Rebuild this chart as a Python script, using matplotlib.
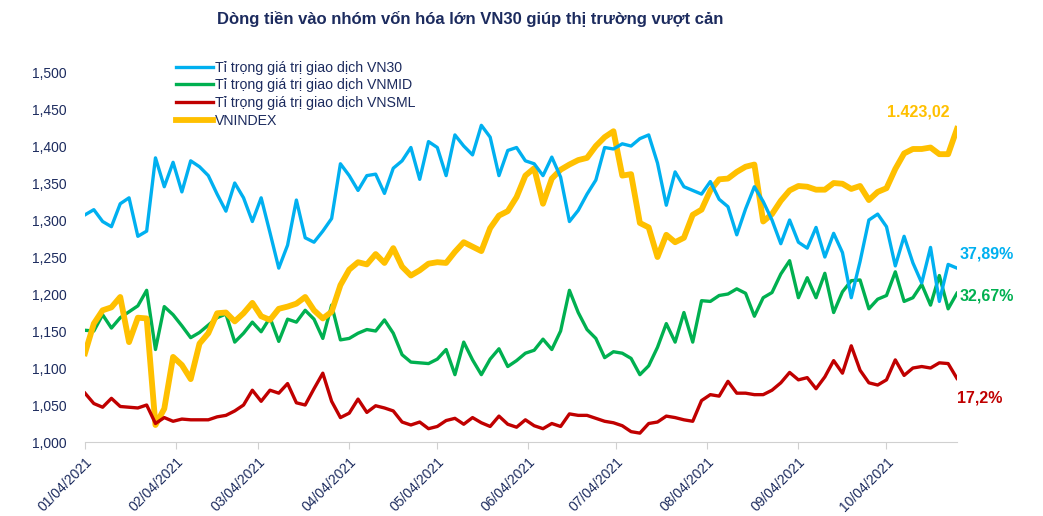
import pandas as pd
import matplotlib
matplotlib.use('Agg')
import matplotlib.pyplot as plt

plt.rcParams['font.family'] = ['Liberation Sans', 'DejaVu Sans']

# sampled every 3 days, Jan -> late Oct 2021
dates = pd.date_range('2021-01-01', periods=100, freq='3D')

vn30 = [1307, 1314, 1298, 1291, 1322, 1330, 1278, 1285, 1384, 1345,
        1378, 1338, 1380, 1372, 1360, 1335, 1312, 1350, 1330, 1298,
        1330, 1283, 1235, 1266, 1327, 1276, 1270, 1285, 1302, 1376,
        1360, 1340, 1360, 1362, 1336, 1370, 1380, 1398, 1355, 1406,
        1398, 1360, 1415, 1400, 1388, 1428, 1412, 1360, 1394, 1398,
        1380, 1376, 1360, 1385, 1358, 1298, 1313, 1335, 1354, 1398,
        1396, 1403, 1400, 1410, 1415, 1377, 1320, 1365, 1345, 1340,
        1335, 1352, 1328, 1318, 1280, 1315, 1345, 1325, 1300, 1268,
        1300, 1270, 1262, 1290, 1250, 1282, 1256, 1195, 1244, 1300,
        1308, 1291, 1238, 1278, 1242, 1215, 1263, 1190, 1240, 1235]

vnmid = [1151, 1150, 1172, 1154, 1168, 1176, 1184, 1205, 1125, 1183,
         1172, 1157, 1141, 1148, 1158, 1168, 1173, 1135, 1147, 1162,
         1149, 1168, 1136, 1166, 1162, 1178, 1166, 1140, 1185, 1138,
         1140, 1147, 1152, 1150, 1165, 1147, 1118, 1108, 1107, 1106,
         1112, 1125, 1091, 1135, 1111, 1091, 1112, 1126, 1102, 1110,
         1120, 1124, 1139, 1125, 1150, 1205, 1175, 1152, 1140, 1114,
         1122, 1120, 1113, 1091, 1103, 1128, 1160, 1135, 1175, 1135,
         1191, 1190, 1198, 1200, 1207, 1201, 1170, 1195, 1202, 1227,
         1245, 1195, 1222, 1195, 1228, 1175, 1203, 1218, 1219, 1180,
         1193, 1198, 1230, 1190, 1195, 1213, 1185, 1225, 1180, 1201]

vnsml = [1066, 1052, 1047, 1059, 1048, 1047, 1046, 1050, 1025, 1033,
         1028, 1031, 1030, 1030, 1030, 1034, 1036, 1042, 1050, 1070,
         1055, 1070, 1066, 1079, 1053, 1050, 1072, 1093, 1055, 1033,
         1039, 1058, 1040, 1049, 1046, 1042, 1027, 1023, 1027, 1018,
         1021, 1029, 1032, 1024, 1033, 1026, 1021, 1035, 1024, 1020,
         1030, 1022, 1018, 1025, 1021, 1038, 1036, 1036, 1032, 1028,
         1026, 1022, 1014, 1012, 1025, 1027, 1035, 1033, 1030, 1028,
         1056, 1064, 1062, 1082, 1066, 1066, 1064, 1064, 1070, 1080,
         1094, 1084, 1087, 1072, 1088, 1110, 1093, 1130, 1097, 1080,
         1077, 1084, 1111, 1090, 1100, 1102, 1100, 1107, 1106, 1086]

vnindex = [1120, 1160, 1178, 1182, 1196, 1135, 1168, 1167, 1023, 1045,
           1115, 1104, 1085, 1133, 1147, 1174, 1175, 1163, 1174, 1188,
           1170, 1165, 1180, 1183, 1187, 1196, 1178, 1167, 1176, 1212,
           1233, 1243, 1240, 1254, 1242, 1262, 1237, 1225, 1232, 1241,
           1243, 1242, 1257, 1270, 1264, 1258, 1289, 1306, 1312, 1331,
           1360, 1370, 1322, 1356, 1368, 1375, 1381, 1384, 1400, 1412,
           1420, 1360, 1362, 1296, 1290, 1250, 1280, 1270, 1276, 1307,
           1314, 1340, 1355, 1356, 1365, 1372, 1375, 1298, 1308, 1326,
           1340, 1346, 1345, 1341, 1341, 1350, 1349, 1342, 1346, 1327,
           1338, 1343, 1369, 1390, 1396, 1396, 1398, 1389, 1389, 1423]

tick_dates = pd.date_range('2021-01-01', '2021-10-01', freq='MS')
tick_labels = ['01/04/2021', '02/04/2021', '03/04/2021', '04/04/2021', '05/04/2021',
               '06/04/2021', '07/04/2021', '08/04/2021', '09/04/2021', '10/04/2021']
yticks = [1000, 1050, 1100, 1150, 1200, 1250, 1300, 1350, 1400, 1450, 1500]

navy = '#1c2b5e'
c_blue, c_green, c_red, c_yellow = '#00b0f0', '#00b050', '#c00000', '#ffc000'

fig = plt.figure(figsize=(10.43, 5.16), dpi=100)
ax = fig.add_axes([0.0815, 0.1434, 0.836, 0.717])

ax.plot(dates, vn30, color=c_blue, lw=2.4, label='Tỉ trọng giá trị giao dịch VN30', zorder=5)
ax.plot(dates, vnmid, color=c_green, lw=2.4, label='Tỉ trọng giá trị giao dịch VNMID', zorder=2)
ax.plot(dates, vnsml, color=c_red, lw=2.4, label='Tỉ trọng giá trị giao dịch VNSML', zorder=4)
ax.plot(dates, vnindex, color=c_yellow, lw=4.2, label='VNINDEX', zorder=3)

ax.set_xlim(dates[0], dates[-1])
ax.set_ylim(1000, 1500)
ax.set_yticks(yticks)
ax.set_yticklabels([f'{v:,}' for v in yticks])
ax.set_xticks(tick_dates)
ax.set_xticklabels(tick_labels, rotation=45, ha='right', rotation_mode='anchor')

for s in ['top', 'right', 'left']:
    ax.spines[s].set_visible(False)
ax.spines['bottom'].set_color('#d0d0d0')
ax.tick_params(axis='y', length=0, pad=13, labelsize=10, labelcolor=navy)
ax.tick_params(axis='x', length=5, color='#d0d0d0', pad=4, labelsize=10, labelcolor=navy)

# end-of-series labels
ax.annotate('1.423,02', xy=(dates[-1], vnindex[-1]), xytext=(-28, 12), textcoords='offset points',
            ha='center', va='center', color=c_yellow, fontsize=11.5, fontweight='bold')
ax.annotate('37,89%', xy=(dates[-1], vn30[-1]), xytext=(2, 10), textcoords='offset points',
            ha='left', va='center', color=c_blue, fontsize=11.5, fontweight='bold')
ax.annotate('32,67%', xy=(dates[-1], vnmid[-1]), xytext=(2, -2), textcoords='offset points',
            ha='left', va='center', color=c_green, fontsize=11.5, fontweight='bold')
ax.annotate('17,2%', xy=(dates[-1], vnsml[-1]), xytext=(0, -14), textcoords='offset points',
            ha='left', va='center', color=c_red, fontsize=11.5, fontweight='bold')

leg = ax.legend(loc='upper left', bbox_to_anchor=(0.169, 0.882), bbox_transform=fig.transFigure,
                frameon=False, fontsize=10.2, handlelength=2.6, handletextpad=0.1,
                labelspacing=0.25, borderpad=0, borderaxespad=0)
for t in leg.get_texts():
    t.set_color(navy)

fig.text(0.451, 0.963, 'Dòng tiền vào nhóm vốn hóa lớn VN30 giúp thị trường vượt cản',
         ha='center', va='center', fontsize=12, fontweight='bold', color=navy)

fig.savefig('out.png', dpi=100)
